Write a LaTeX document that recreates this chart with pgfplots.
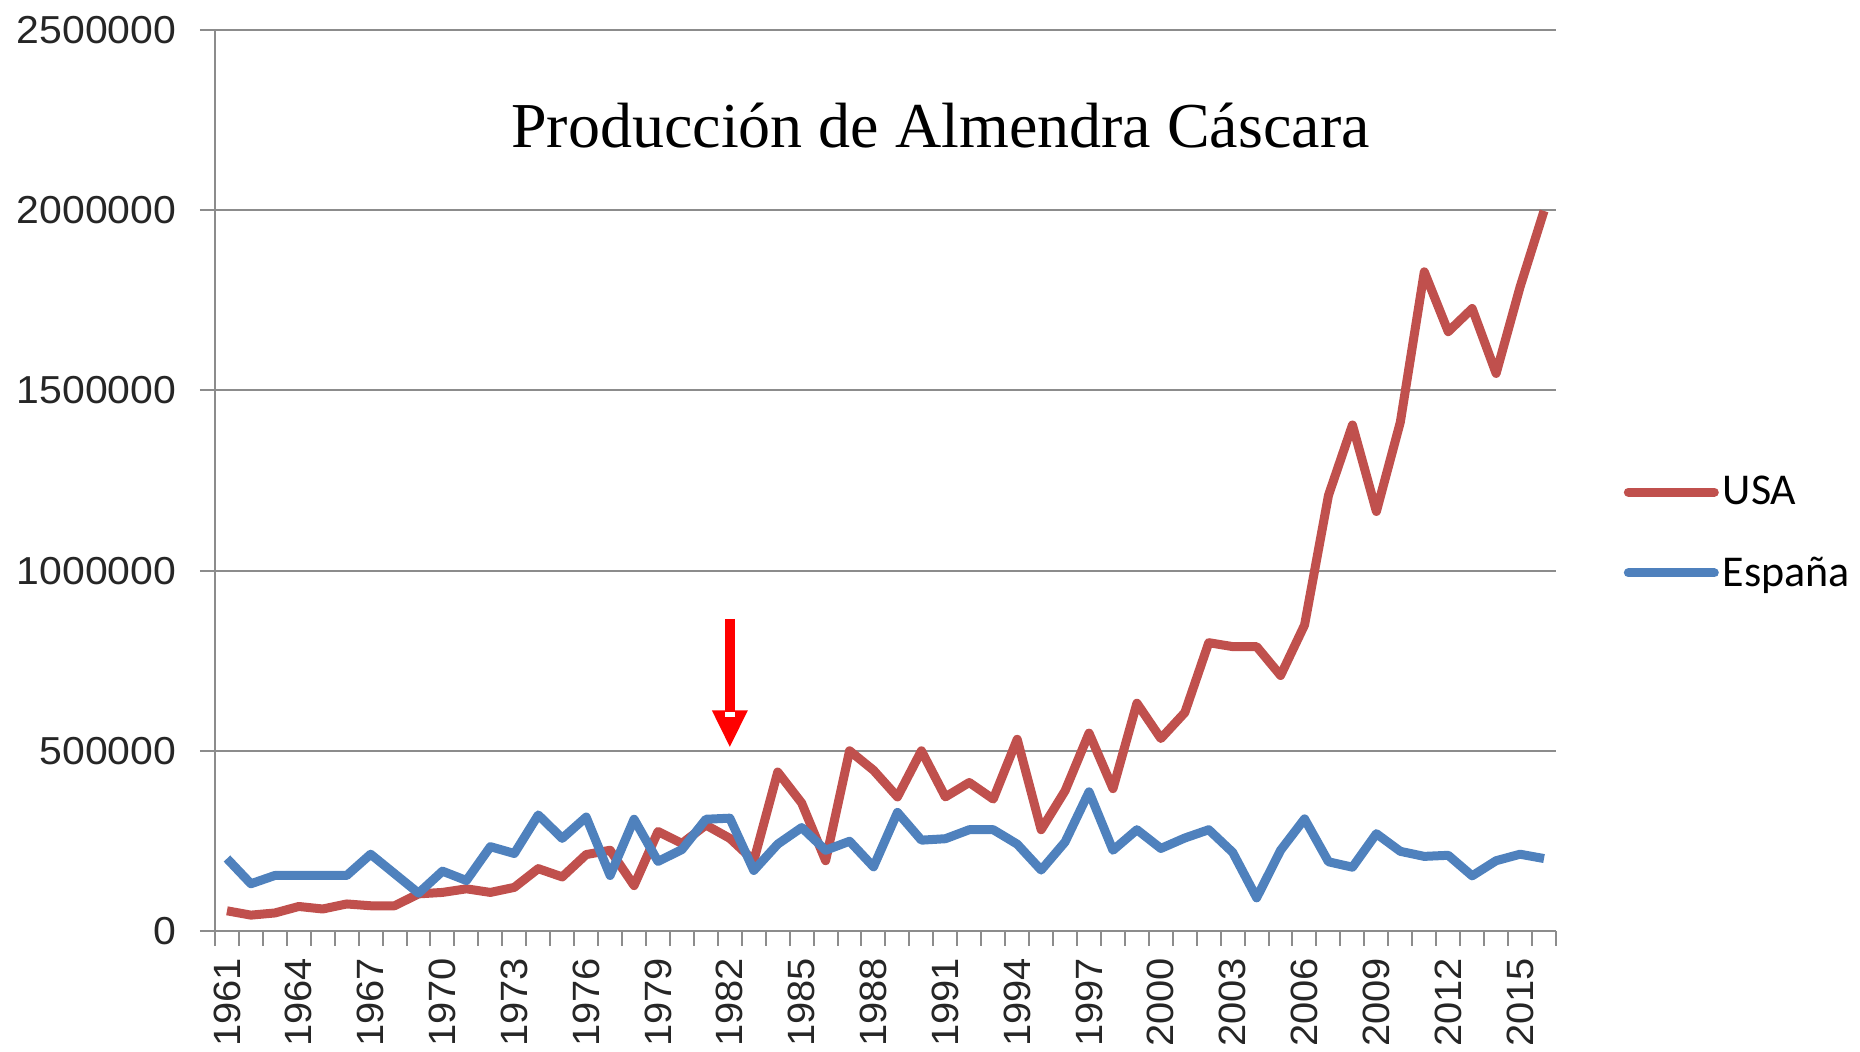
\documentclass[border=0pt]{standalone}
\usepackage{pgfplots}
\pgfplotsset{compat=1.18}
\usepackage{fontspec}
\setmainfont{Liberation Sans}
\newfontfamily\tickfont[FakeStretch=1.05]{Liberation Sans}
\newfontfamily\titlefont{Liberation Serif}
\newfontfamily\legfont{Carlito}
\definecolor{usared}{HTML}{C0504D}
\definecolor{esblue}{HTML}{4F81BD}
\definecolor{gridgray}{HTML}{8C8C8C}
\pgfplotstableread{
year usa espana
1961 56000 201000
1962 44000 131000
1963 50000 154000
1964 68000 154000
1965 61000 154000
1966 75000 154000
1967 70000 213000
1968 70000 159000
1969 103000 105000
1970 107000 166000
1971 117000 140000
1972 107000 234000
1973 121000 215000
1974 173000 322000
1975 150000 257000
1976 212000 316000
1977 224000 154000
1978 126000 310000
1979 276000 193000
1980 243000 226000
1981 294000 310000
1982 257000 313000
1983 195000 168000
1984 441000 241000
1985 355000 287000
1986 195000 224000
1987 500000 249000
1988 446000 178000
1989 372000 329000
1990 500000 252000
1991 372000 256000
1992 412000 281000
1993 366000 281000
1994 532000 241000
1995 281000 169000
1996 389000 247000
1997 549000 386000
1998 395000 224000
1999 632000 281000
2000 534000 229000
2001 606000 258000
2002 800000 281000
2003 789000 218000
2004 789000 92000
2005 709000 224000
2006 849000 311000
2007 1209000 192000
2008 1404000 177000
2009 1164000 270000
2010 1412000 221000
2011 1829000 207000
2012 1663000 210000
2013 1727000 153000
2014 1547000 195000
2015 1787000 213000
2016 1998000 201000
}\datatable
\begin{document}
\begin{tikzpicture}
\path[use as bounding box] (-107.5pt,-60.5pt) rectangle (822.5pt,465.5pt);
\begin{axis}[
  at={(0pt,0pt)}, anchor=south west,
  width=670.5pt, height=450.5pt, scale only axis,
  xmin=1960.5, xmax=2016.5, ymin=0, ymax=2500000,
  axis x line*=bottom, axis y line*=left,
  axis line style={gridgray, line width=1pt},
  ymajorgrids, grid style={gridgray, line width=1pt},
  xtick={1961,1964,...,2015},
  minor xtick={1960.5,1961.5,...,2016.5},
  every major x tick/.append style={draw=none},
  ytick={0,500000,...,2500000},
  tick align=outside, major tick length=7.5pt, minor tick length=7.5pt,
  tick style={gridgray, line width=1pt},
  scaled y ticks=false,
  yticklabel style={font=\tickfont\fontsize{19.5pt}{21pt}\selectfont, text=black!85, xshift=-8.3pt},
  xticklabel style={rotate=90, anchor=east, font=\tickfont\fontsize{19pt}{21pt}\selectfont, text=black!85},
  xticklabel shift=2.5pt,
  xticklabel={\pgfmathprintnumber[fixed,1000 sep={},precision=0]{\tick}},
  /pgf/number format/.cd, fixed, 1000 sep={}, assume math mode=true,
  /pgfplots/.cd,
  legend style={at={(axis description cs:1.0503,0.442)}, anchor=west, draw=none, fill=none, inner sep=0pt,
    font=\legfont\fontsize{22pt}{26pt}\selectfont, row sep=24.4pt,
    nodes={inner sep=0pt},
    /tikz/every odd column/.append style={column sep=2pt}},
  legend image code/.code={\draw[#1, line cap=round] (0pt,0pt) -- (43pt,0pt);},
  legend cell align=left,
]
\addplot[usared, line width=4.5pt, line join=round] table[x=year, y=usa] {\datatable};
\addlegendentry{USA}
\addplot[esblue, line width=4.5pt, line join=round] table[x=year, y=espana] {\datatable};
\addlegendentry{España}
\node[font=\titlefont\fontsize{32pt}{35pt}\selectfont] at (axis cs:1990.8,2236000) {Producción de Almendra Cáscara};
\draw[red, line width=5.3pt] (axis cs:1982,866000) -- (axis cs:1982,605000);
\fill[red] (axis cs:1981.25,612000) -- (axis cs:1982.75,612000) -- (axis cs:1982,511000) -- cycle;
\fill[white] (axis cs:1981.8,608000) rectangle (axis cs:1982.2,594000);
\end{axis}
\end{tikzpicture}
\end{document}
